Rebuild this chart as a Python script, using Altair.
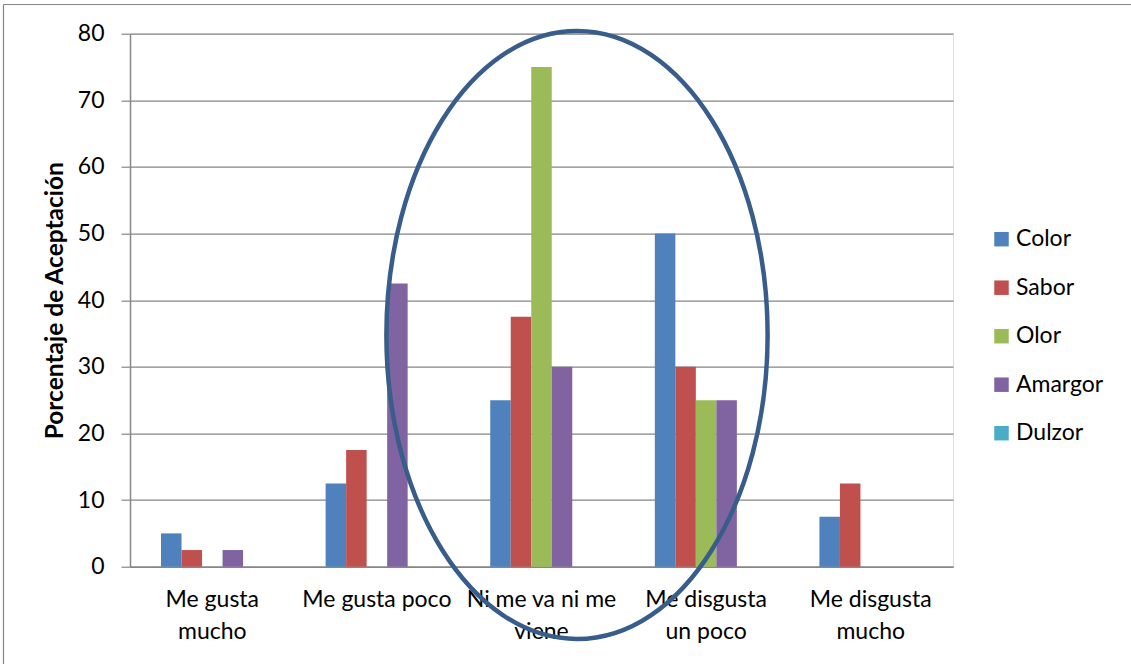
import altair as alt
import pandas as pd

# ---- data ----
categories = ["Me gusta mucho", "Me gusta poco", "Ni me va ni me viene",
              "Me disgusta un poco", "Me disgusta mucho"]
category_lines = [["Me gusta", "mucho"], ["Me gusta poco"], ["Ni me va ni me", "viene"],
                  ["Me disgusta", "un poco"], ["Me disgusta", "mucho"]]
series = ["Color", "Sabor", "Olor", "Amargor", "Dulzor"]
color_vals = [5, 12.5, 25, 50, 7.5]
sabor_vals = [2.5, 17.5, 37.5, 30, 12.5]
olor_vals = [0, 0, 75, 25, 0]
amargor_vals = [2.5, 42.5, 30, 25, 0]
dulzor_vals = [0, 0, 0, 0, 0]
series_colors = ["#4F81BD", "#C0504D", "#9BBB59", "#8064A2", "#4BACC6"]
y_ticks = [0, 10, 20, 30, 40, 50, 60, 70, 80]
y_title = "Porcentaje de Aceptación"

values_by_series = [color_vals, sabor_vals, olor_vals, amargor_vals, dulzor_vals]
rows = []
for s, vals in zip(series, values_by_series):
    for c, v in zip(categories, vals):
        rows.append({"categoria": c, "serie": s, "valor": v})
df = pd.DataFrame(rows)

# multi-line axis labels
expr = "datum.label"
for c, lines in reversed(list(zip(categories, category_lines))):
    arr = "[" + ",".join("'" + l + "'" for l in lines) + "]"
    expr = f"datum.label == '{c}' ? {arr} : ({expr})"

FONT = "Lato"
GRAY = "#868686"
W, H = 823, 533
PAD_L, PAD_T = 130, 33.7
TOTAL_W, TOTAL_H = 1131, 664

bars = alt.Chart(df).mark_bar().encode(
    x=alt.X("categoria:N", sort=categories,
            scale=alt.Scale(paddingInner=0.377, paddingOuter=0.1885),
            axis=alt.Axis(title=None, labelAngle=0, ticks=False, labelExpr=expr,
                          labelFontSize=23, labelLineHeight=32, labelPadding=22,
                          domainColor=GRAY, domainWidth=1.5, labelColor="#000000",
                          labelFont=FONT)),
    xOffset=alt.XOffset("serie:N", sort=series, scale=alt.Scale(paddingInner=0, paddingOuter=0)),
    y=alt.Y("valor:Q", scale=alt.Scale(domain=[0, 80], nice=False),
            axis=alt.Axis(values=y_ticks, title=y_title, grid=True, gridColor=GRAY,
                          gridWidth=1.2, domainColor=GRAY, domainWidth=1.5,
                          tickColor=GRAY, tickSize=9, tickWidth=1.2,
                          labelFontSize=23, labelPadding=17, labelColor="#000000",
                          labelFont=FONT, titleFont=FONT, titleFontSize=24.5,
                          titleFontWeight="bold", titleColor="#000000",
                          titleAngle=-90, titleX=-75, titleY=H / 2,
                          titleAlign="center", titleBaseline="middle")),
    color=alt.Color("serie:N", sort=series,
                    scale=alt.Scale(domain=series, range=series_colors),
                    legend=alt.Legend(title=None, orient="none", legendX=860, legendY=194,
                                      symbolType="square", symbolSize=210,
                                      symbolStrokeWidth=0, labelFontSize=23,
                                      labelFont=FONT, labelColor="#000000",
                                      labelOffset=3, rowPadding=24.5)),
)

note = pd.DataFrame({"nota": ["elipse"]})
ellipse = alt.Chart(note).mark_point(
    shape="M -0.627 0 A 0.627 1 0 1 0 0.627 0 A 0.627 1 0 1 0 -0.627 0 Z",
    filled=False, stroke="#385D8A", strokeWidth=4.5, size=608 * 608, opacity=1,
).encode(x=alt.value(447), y=alt.value(301.3))

frame_top = alt.Chart(note).mark_rule(stroke=GRAY, strokeWidth=1.2).encode(
    x=alt.value(3.5 - PAD_L), x2=alt.value(TOTAL_W - PAD_L), y=alt.value(4.5 - PAD_T)
)
frame_left = alt.Chart(note).mark_rule(stroke=GRAY, strokeWidth=1.2).encode(
    x=alt.value(3.5 - PAD_L), y=alt.value(4.5 - PAD_T), y2=alt.value(TOTAL_H - PAD_T)
)

chart = alt.layer(bars, ellipse, frame_top, frame_left).properties(
    width=W, height=H,
    autosize=alt.AutoSizeParams(type="none"),
    padding={"left": PAD_L, "top": PAD_T, "right": TOTAL_W - PAD_L - W,
             "bottom": TOTAL_H - PAD_T - H},
).configure_view(stroke=None).configure(background="#ffffff")

chart.save("out.html", embed_options={"renderer": "svg", "actions": False})
